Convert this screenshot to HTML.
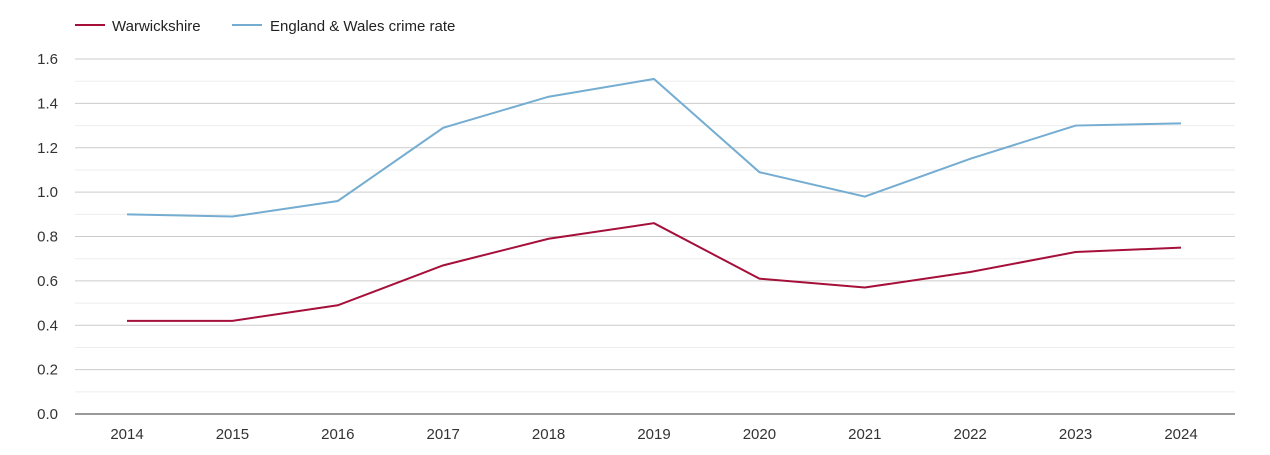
<!DOCTYPE html>
<html><head><meta charset="utf-8"><style>
body{margin:0;background:#fff;font-family:"Liberation Sans",sans-serif;}
svg text{font-family:"Liberation Sans",sans-serif;}
</style></head><body>
<svg id="chart" width="1270" height="450" xmlns="http://www.w3.org/2000/svg">
<g>
<line x1="75" y1="25" x2="105" y2="25" stroke="#a50f3a" stroke-width="2"/>
<text x="112" y="31" font-size="15" fill="#222">Warwickshire</text>
<line x1="232" y1="25" x2="262" y2="25" stroke="#74add1" stroke-width="2"/>
<text x="270" y="31" font-size="15" fill="#222">England &amp; Wales crime rate</text>
</g>
<g id="grid"></g><g id="axes"></g><g id="series"></g>
</svg>
<script>
const years=["2014","2015","2016","2017","2018","2019","2020","2021","2022","2023","2024"];
const warwickshire=[0.42,0.42,0.49,0.67,0.79,0.86,0.61,0.57,0.64,0.73,0.75];
const englandWales=[0.90,0.89,0.96,1.29,1.43,1.51,1.09,0.98,1.15,1.30,1.31];
const yTicks=[0,0.2,0.4,0.6,0.8,1.0,1.2,1.4,1.6];
const NS="http://www.w3.org/2000/svg";
const x=i=>127+i*(1181-127)/(years.length-1);
const y=v=>414-v*(414-59)/1.6;
function mk(t,a,p){const e=document.createElementNS(NS,t);for(const k in a)e.setAttribute(k,a[k]);p.appendChild(e);return e;}
const grid=document.getElementById('grid'),axes=document.getElementById('axes'),series=document.getElementById('series');
for(let v=0.1;v<1.65;v+=0.2){const l=mk('line',{x1:75,x2:1235,y1:y(v),y2:y(v),stroke:'#eee'},grid);

}
yTicks.forEach(v=>{const l=mk('line',{x1:75,x2:1235,y1:y(v),y2:y(v),stroke:v===0?'#333':'#ccc'},grid);


const t=mk('text',{x:58,y:y(v)+5,'font-size':15,fill:'#333','text-anchor':'end'},axes);t.textContent=v.toFixed(1);

});
years.forEach((yr,i)=>{const t=mk('text',{x:x(i),y:439,'font-size':15,fill:'#333','text-anchor':'middle'},axes);t.textContent=yr;

});
function line(d,c,n){const p=mk('polyline',{points:d.map((v,i)=>x(i)+','+y(v)).join(' '),fill:'none',stroke:c,'stroke-width':2},series);

}
line(englandWales,'#74add1','england-wales-line');
line(warwickshire,'#a50f3a','warwickshire-line');
</script>
</body></html>
